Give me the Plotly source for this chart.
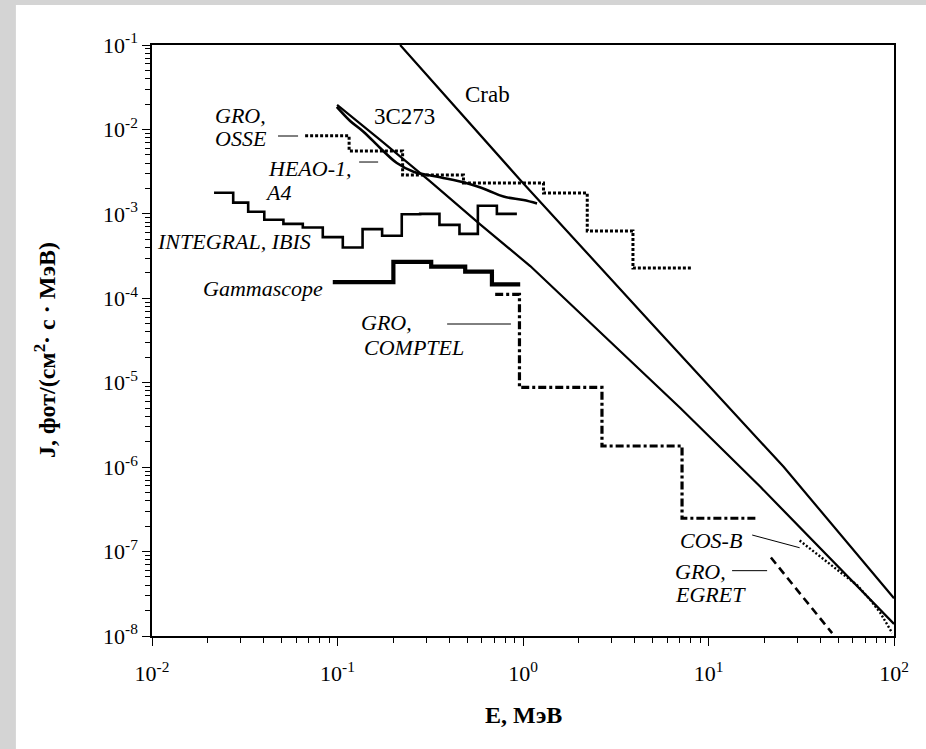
import math
import plotly.graph_objects as go

# ---------------- data ----------------
crab_E = [0.2176, 0.966, 4.85, 25.4, 100]
crab_J = [0.1, 2.52e-3, 5.24e-5, 1.01e-6, 2.8e-8]

pl3c273_E = [0.0995, 0.1698, 0.3158, 0.5875, 1.094, 2.609, 7.045, 19.03, 45.4, 100]
pl3c273_J = [1.95e-2, 7.53e-3, 2.42e-3, 7.5e-4, 2.41e-4, 3.97e-5, 5.02e-6, 5.85e-7, 8.3e-8, 1.39e-8]

heao_E = [0.0991, 0.117, 0.138, 0.1698, 0.2089, 0.257, 0.358, 0.498, 0.639, 0.785, 1.006, 1.19]
heao_J = [1.85e-2, 1.26e-2, 9.4e-3, 6.03e-3, 4.0e-3, 3.16e-3, 2.71e-3, 2.3e-3, 1.92e-3, 1.6e-3, 1.46e-3, 1.33e-3]

osse_edges = [0.0669, 0.1155, 0.2244, 0.4776, 1.29, 2.22, 3.915, 8.15]
osse_levels = [8.4e-3, 5.55e-3, 2.88e-3, 2.32e-3, 1.77e-3, 6.27e-4, 2.28e-4]

ibis_edges = [0.0216, 0.0274, 0.033, 0.0403, 0.0511, 0.065, 0.0833, 0.1068, 0.1365,
              0.174, 0.222, 0.279, 0.3545, 0.4545, 0.571, 0.723, 0.927]
ibis_levels = [1.78e-3, 1.36e-3, 1.06e-3, 8.5e-4, 7.6e-4, 6.9e-4, 5.3e-4, 4.0e-4,
               6.6e-4, 5.5e-4, 9.9e-4, 1.0e-3, 7.4e-4, 5.8e-4, 1.25e-3, 1.0e-3]

gamma_edges = [0.0943, 0.2001, 0.32, 0.488, 0.68, 0.966]
gamma_levels = [1.55e-4, 2.7e-4, 2.37e-4, 2.07e-4, 1.46e-4]

comptel_edges = [0.708, 0.957, 2.665, 7.2, 18.1]
comptel_levels = [1.11e-4, 8.8e-6, 1.78e-6, 2.48e-7]

cosb_E = [31.0, 43.6, 51.4, 63.2, 74.6, 84.5, 97.7]
cosb_J = [1.35e-7, 7.6e-8, 5.8e-8, 4.0e-8, 2.67e-8, 1.87e-8, 1.09e-8]

egret_E = [21.7, 46.4]
egret_J = [8.5e-8, 1.08e-8]

x_tickvals = [0.01, 0.1, 1, 10, 100]
x_ticktext = ["10<sup>-2</sup>", "10<sup>-1</sup>", "10<sup>0</sup>", "10<sup>1</sup>", "10<sup>2</sup>"]
y_tickvals = [1e-8, 1e-7, 1e-6, 1e-5, 1e-4, 1e-3, 1e-2, 1e-1]
y_ticktext = ["10<sup>-8</sup>", "10<sup>-7</sup>", "10<sup>-6</sup>", "10<sup>-5</sup>",
              "10<sup>-4</sup>", "10<sup>-3</sup>", "10<sup>-2</sup>", "10<sup>-1</sup>"]

# labels: text, E, J (anchor edge, vertical centre), italic
labels = [
    ("GRO,", 0.0213, 1.48e-2, "left", True),
    ("OSSE", 0.0213, 7.71e-3, "left", True),
    ("HEAO-1,", 0.0412, 3.4e-3, "left", True),
    ("A4", 0.0397, 1.77e-3, "left", True),
    ("INTEGRAL, IBIS", 0.0739, 4.67e-4, "right", True),
    ("Gammascope", 0.0857, 1.29e-4, "right", True),
    ("GRO,", 0.1308, 5.14e-5, "left", True),
    ("COMPTEL", 0.1357, 2.58e-5, "left", True),
    ("Crab", 0.476, 2.56e-2, "left", False),
    ("3C273", 0.153, 1.44e-2, "left", False),
    ("COS-B", 6.85, 1.37e-7, "left", True),
    ("GRO,", 6.43, 5.73e-8, "left", True),
    ("EGRET", 6.43, 3.06e-8, "left", True),
]

# leader lines: E0, E1, J0, J1
leaders = [
    (0.0478, 0.0613, 8.36e-3, 8.36e-3),
    (0.1308, 0.1656, 4.11e-3, 4.11e-3),
    (0.39, 0.861, 4.96e-5, 4.96e-5),
    (17.2, 31.0, 1.57e-7, 1.11e-7),
    (13.4, 20.7, 5.94e-8, 5.94e-8),
]

# ---------------- figure ----------------
fig = go.Figure()


def add_line(x, y, width, dash="solid", shape="linear"):
    line = dict(color="black", width=width, dash=dash, shape=shape)
    if shape == "spline":
        line["smoothing"] = 1.0
    fig.add_trace(go.Scatter(x=x, y=y, mode="lines", line=line,
                             hoverinfo="skip", showlegend=False))


def add_steps(edges, levels, width, dash="solid"):
    add_line(edges, levels + [levels[-1]], width, dash, "hv")


add_line(crab_E, crab_J, 2.2)
add_line(pl3c273_E, pl3c273_J, 2.2)
add_line(heao_E, heao_J, 2.6, shape="spline")
add_steps(osse_edges, osse_levels, 3, "3px,2px")
add_steps(ibis_edges, ibis_levels, 2.6)
add_steps(gamma_edges, gamma_levels, 4.2)
add_steps(comptel_edges, comptel_levels, 3.2, "8px,3px,3px,3px")
add_line(cosb_E, cosb_J, 2.4, "2px,2px")
add_line(egret_E, egret_J, 2.6, "8px,5px")

for e0, e1, j0, j1 in leaders:
    add_line([e0, e1], [j0, j1], 1)

SERIF = "Liberation Serif, Times New Roman, DejaVu Serif, serif"
ann = []
for text, e, j, anchor, ital in labels:
    ann.append(dict(
        x=math.log10(e), y=math.log10(j), xref="x", yref="y",
        text=("<i>%s</i>" % text) if ital else text,
        showarrow=False, xanchor=anchor, yanchor="middle",
        font=dict(family=SERIF, size=22 if ital else 23, color="black"),
    ))

ann.append(dict(x=0.5, y=-0.134, xref="paper", yref="paper", text="<b>E, МэВ</b>",
                showarrow=False, xanchor="center", yanchor="middle",
                font=dict(family=SERIF, size=24, color="black")))
ann.append(dict(x=-0.144, y=0.484, xref="paper", yref="paper",
                text="<b>J, фот/(см<sup>2</sup>· с · МэВ)</b>", textangle=-90,
                showarrow=False, xanchor="center", yanchor="middle",
                font=dict(family=SERIF, size=24, color="black")))

minor_x = [m * 10.0 ** k for k in range(-2, 2) for m in range(2, 10)]
minor_y = [m * 10.0 ** k for k in range(-8, -1) for m in range(2, 10)]

axis_common = dict(
    type="log", showline=True, linecolor="black", linewidth=1.5, mirror=True,
    ticks="outside", ticklen=8, tickwidth=1, tickcolor="black",
    tickmode="array", showgrid=False, zeroline=False,
    tickfont=dict(family=SERIF, size=22, color="black"),
)

fig.update_layout(
    width=926, height=749,
    margin=dict(l=152, r=32, t=45, b=113),
    paper_bgcolor="#d4d4d4", plot_bgcolor="white",
    showlegend=False,
    annotations=ann,
    font=dict(family=SERIF, color="black"),
    xaxis=dict(axis_common, range=[-2, 2], tickvals=x_tickvals, ticktext=x_ticktext,
               ticklabelstandoff=9,
               minor=dict(tickmode="array", tickvals=minor_x, ticks="outside", ticklen=5,
                          tickwidth=1, tickcolor="black", showgrid=False)),
    yaxis=dict(axis_common, range=[-8, -1], tickvals=y_tickvals, ticktext=y_ticktext,
               minor=dict(tickmode="array", tickvals=minor_y, ticks="outside", ticklen=5,
                          tickwidth=1, tickcolor="black", showgrid=False)),
    shapes=[dict(type="rect", xref="paper", yref="paper",
                 x0=(16 - 152) / 741.5, x1=(930 - 152) / 741.5,
                 y0=(636 - 752) / 591, y1=(636 - 5) / 591,
                 fillcolor="white", line=dict(width=0), layer="below")],
)

fig.write_html("out.html")
